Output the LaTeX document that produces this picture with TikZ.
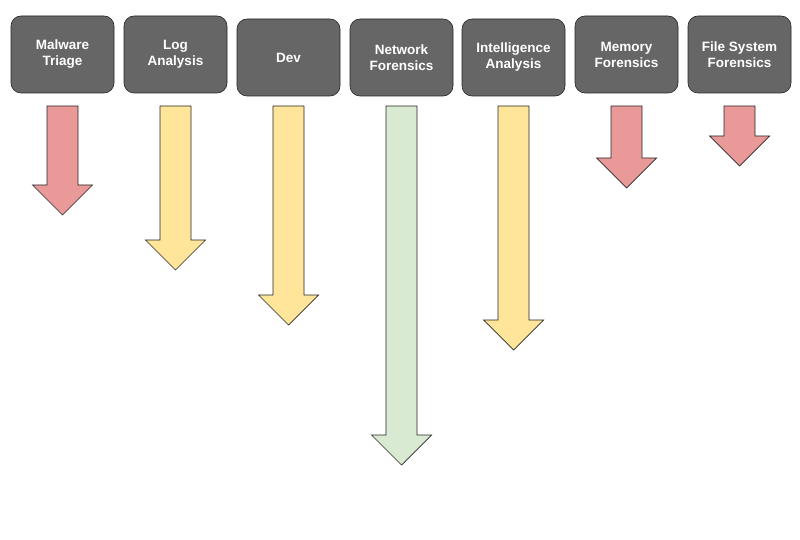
\documentclass[tikz,border=0pt]{standalone}
\usepackage{fontspec}
\setmainfont{Liberation Sans}
\usepackage{xcolor}
\usetikzlibrary{positioning}

\definecolor{boxgray}{HTML}{666666}
\definecolor{arrowred}{HTML}{EA9999}
\definecolor{arrowyellow}{HTML}{FFE599}
\definecolor{arrowgreen}{HTML}{D9EAD3}

\tikzset{
  topic/.style={draw=black!85, line width=0.6pt, fill=boxgray, rounded corners=10pt,
    minimum width=103pt, minimum height=77pt, text=white, align=center,
    font=\fontsize{13.5}{16}\selectfont\bfseries},
  flow/.style={draw=black!85, line width=0.7pt, line join=miter}
}

\begin{document}
\begin{tikzpicture}[x=1pt, y=-1pt]
  \useasboundingbox (0,0) rectangle (800,540);

  % Kotak topik dan panah
  \foreach \name/\txt/\cx/\cy/\tip/\col in {
      triage/{Malware\\Triage}/62.5/54.5/215/arrowred,
      logs/{Log\\Analysis}/175.5/54.5/270/arrowyellow,
      dev/{Dev}/288.5/57.5/325/arrowyellow,
      network/{Network\\Forensics}/401.5/57.5/465/arrowgreen,
      intel/{Intelligence\\Analysis}/513.5/57.5/350/arrowyellow,
      memory/{Memory\\Forensics}/626.5/54.5/188/arrowred,
      filesys/{File System\\Forensics}/739.5/54.5/166/arrowred} {
    \node[topic] (\name) at (\cx,\cy) {\txt};
    \draw[flow, fill=\col] (\cx-15.5,106) -- (\cx+15.5,106) -- (\cx+15.5,\tip-30)
      -- (\cx+30,\tip-30) -- (\cx,\tip) -- (\cx-30,\tip-30) -- (\cx-15.5,\tip-30) -- cycle;
  }
\end{tikzpicture}
\end{document}
